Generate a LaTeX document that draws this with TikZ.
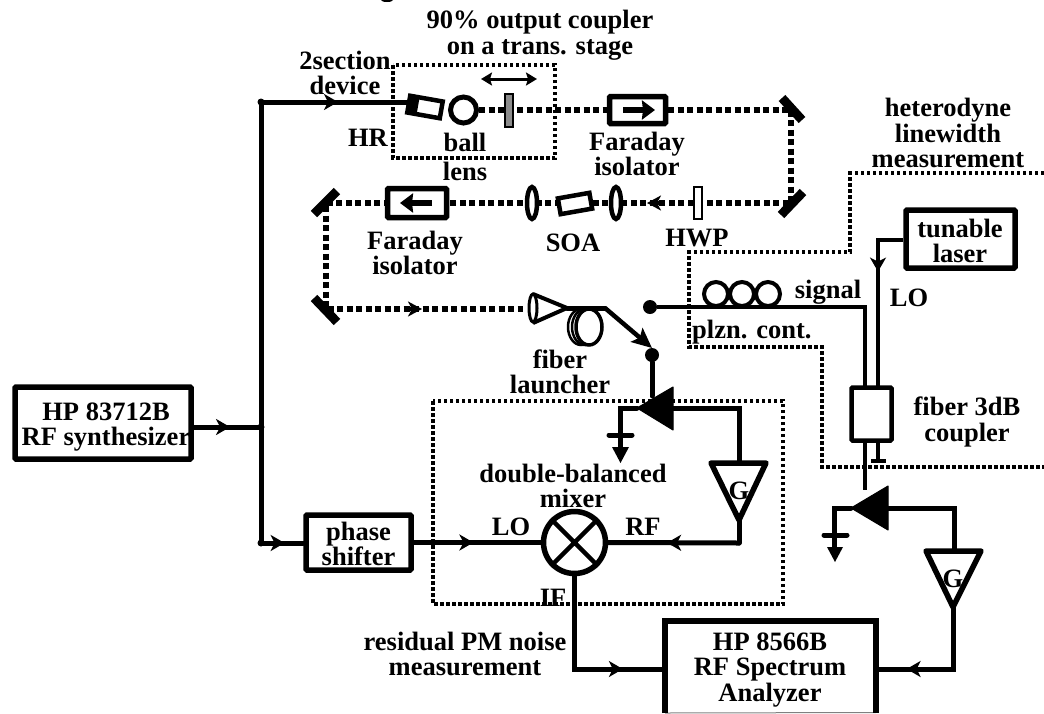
\documentclass[tikz,border=0pt]{standalone}
\usepackage{fontspec}
\setmainfont{Liberation Serif}
\usetikzlibrary{arrows.meta,decorations.markings}
\tikzset{
 x=1pt,y=-1pt,
 txt/.style={font=\fontsize{26.5}{25.5}\selectfont\bfseries,align=center,inner sep=0pt,text=black},
 wire/.style={line width=5pt,line cap=round},
 thinwire/.style={line width=4pt},
 frame/.style={draw,line width=5.5pt,rounded corners=1pt,fill=white},
 beam/.style={line width=5.5pt,dash pattern=on 6pt off 3.5pt},
 dotbox/.style={line width=4pt,dash pattern=on 3.5pt off 2.5pt},
 mirror/.style={line width=9pt},
 optic/.style={draw,line width=4.5pt,fill=white},
 pt/.style={circle,fill=black,inner sep=0pt,minimum size=7pt},
 beamhead/.style={-{Stealth[length=14pt,width=15pt,inset=4pt]},line width=4.5pt},
 faradayhead/.style={line width=6.5pt,-{Stealth[length=13pt,width=19pt,inset=1pt]}},
 mid/.style={postaction={decorate},decoration={markings,mark=at position #1 with {\arrow{Stealth[length=14pt,width=16pt,inset=4pt]}}}},
}
\begin{document}
\begin{tikzpicture}
\useasboundingbox (0,0) rectangle (1044,713);
\fill (387,0) ellipse (6 and 2);
% dotted frames
\draw[dotbox] (393,65) rectangle (555,158);
\draw[dotbox] (433,401) rectangle (783,604);
\draw[dotbox] (1044,173) -- (850,173) -- (850,252) -- (689,252) -- (689,347) -- (822,347) -- (822,467) -- (1044,467);
% boxes
\node[frame,minimum width=176pt,minimum height=72pt] (hp) at (103,423) {};
\node[txt] at (106,427) {HP 83712B\\RF synthesizer};
\node[frame,minimum width=105pt,minimum height=55pt] (ps) at (358.5,542.5) {};
\node[txt] at (358.5,544) {phase\\shifter};
\node[frame,minimum width=109pt,minimum height=58pt] (laser) at (960.5,239) {};
\node[txt] at (960,241) {tunable\\laser};
% spectrum analyser, open at the bottom edge
\coordinate (saA) at (665,713); \coordinate (saB) at (665,621); \coordinate (saC) at (876,621); \coordinate (saD) at (876,713);
\draw[black!50,line width=1pt] (saA) -- (saD |- 0,712.5);
\draw[line width=5.5pt] (saA) -- (saB) -- (saC) -- (saD);
\node[txt] (sa) at (770,670) {HP 8566B\\RF Spectrum\\Analyzer};
% junctions
\coordinate (top) at (261,102); \coordinate (midj) at (261,427); \coordinate (bot) at (261,543);
\draw[wire] (top) -- (bot);
\node[pt] at (top) {}; \node[pt] at (midj) {}; \node[pt] at (bot) {};
\draw[wire,mid=0.54] (hp.east |- midj) -- (midj);
\draw[wire,mid=0.56] (bot) -- (ps.west |- bot);
\coordinate (dev) at (412,102);
\draw[wire,mid=0.51] (top) -- (dev);
% laser head
\node[draw,line width=4.5pt,minimum width=33pt,minimum height=17pt,inner sep=0pt,rotate=-10,fill=white] (device) at (425,107) {};
\begin{scope}[shift={(425,107)},rotate=-10]
\fill (-18,-10) rectangle (-7,10);
\end{scope}
\node[circle,draw,line width=5pt,minimum size=26pt,inner sep=0pt,fill=white] (ball) at (463.5,110) {};
% beams
\coordinate (m1) at (791,110); \coordinate (m2) at (791,203); \coordinate (m3) at (326,203); \coordinate (m4) at (326,309);
\draw[beam] (ball.east) -- (608,110);
\draw[beam] (668,110) -- (m1) -- (m2) -- (m3) -- (m4) -- (523,309);
\draw[beamhead] (660,203) -- (647,203);
\draw[beamhead] (408,309) -- (422,309);
% optics
\node[draw,line width=2pt,fill=black!45,minimum width=8pt,minimum height=33pt,inner sep=0pt] (oc) at (509,110) {};
\draw[line width=3pt,{Stealth[length=11pt,width=13pt,inset=2pt]}-{Stealth[length=11pt,width=13pt,inset=2pt]}] (481,79) -- (537,79);
\node[frame,minimum width=56pt,minimum height=27pt] (fi1) at (637.5,110) {};
\draw[faradayhead] (623,110) -- (655,110);
\node[frame,minimum width=59pt,minimum height=29pt] (fi2) at (417,203) {};
\draw[faradayhead] (432,203) -- (400,203);
\draw[mirror] (782,98) -- (802,120);
\draw[mirror] (781,215) -- (803,192);
\draw[mirror] (314,214) -- (337,191);
\draw[mirror] (314,298) -- (337,322);
\node[draw,line width=2pt,fill=white,minimum width=8pt,minimum height=32pt,inner sep=0pt] (hwp) at (698,203) {};
\draw[optic] (532,203) ellipse (5 and 16);
\draw[optic] (616,203) ellipse (5 and 16);
\node[draw,line width=4.5pt,fill=white,minimum width=32pt,minimum height=16pt,inner sep=0pt,rotate=10] (soa) at (575,203.5) {};
% launcher
\draw[line width=4pt,line join=round] (533,294) -- (567,308) -- (533,323);
\draw[line width=3pt,fill=white] (533,308) ellipse (4 and 14);
\draw[line width=2.5pt] (581,327) ellipse (13 and 18);
\draw[line width=2.5pt] (585,327) ellipse (13 and 18);
\draw[line width=3.5pt,fill=white] (589,327) ellipse (13 and 18);
\coordinate (fend) at (605,308);
\draw[wire] (567,308) -- (fend);
\node[circle,fill=black,minimum size=14pt,inner sep=0pt] (fdot) at (652,355) {};
\draw[line width=4.5pt,-{Stealth[length=20pt,width=18pt,inset=4pt]}] (fend) -- (652,348);
% photodiode 1
\coordinate (pd1) at (673,408);
\draw[wire] (fdot) -- (652,396);
\fill[line join=round,draw,line width=1pt] (637,408) -- (673,387) -- (673,430) -- cycle;
\draw[wire] (673,408) -- (739,408) -- (739,462);
\draw[wire] (637,408) -- (620,408) -- (620,448);
\draw[wire] (609,435) -- (632,435);
\fill (612,447) -- (629,447) -- (620.5,463) -- cycle;
% amplifier 1
\draw[line width=5.5pt,line join=round,fill=white] (711,463) -- (766,463) -- (739,520) -- cycle;
\node[txt] at (739,491) {G};
\draw[wire] (739,520) -- (739,543);
% mixer
\node[circle,draw,line width=5.5pt,minimum size=62pt,inner sep=0pt] (mx) at (574.5,542.5) {};
\draw[line width=4.5pt] (mx.north west) -- (mx.south east) (mx.north east) -- (mx.south west);
\draw[wire,mid=0.47] (ps.east |- mx) -- (mx.west);
\draw[wire,mid=0.55] (739,543) -- (mx.east);
\draw[wire,mid=0.77] (mx.south) -- (574.5,669) -- (saB |- 0,669);
% signal and LO
\node[circle,fill=black,minimum size=14pt,inner sep=0pt] (sig) at (650,307) {};
\draw[thinwire] (sig) -- (865,307) -- (865,387);
\draw[line width=4pt] (716,294) circle (12);
\draw[line width=4pt] (742,294) circle (12);
\draw[line width=4pt] (768,294) circle (12);
\draw[thinwire,mid=0.33] (laser.west |- 0,240) -- (878,240) -- (878,387);
\node[draw,line width=4.5pt,rounded corners=1pt,fill=white,minimum width=40pt,minimum height=53pt] (cp) at (871.5,414) {};
\draw[thinwire] (878,442) -- (878,461);
\draw[thinwire] (871,461) -- (886,461);
\draw[thinwire] (865,442) -- (865,490);
% photodiode 2
\fill[line join=round,draw,line width=1pt] (851,508) -- (888,486) -- (888,530) -- cycle;
\draw[wire] (888,508) -- (954,508) -- (954,551);
\draw[wire] (851,508) -- (834,508) -- (834,548);
\draw[wire] (824,535) -- (847,535);
\fill (827,547) -- (843,547) -- (835,562) -- cycle;
% amplifier 2
\draw[line width=5.5pt,line join=round,fill=white] (926,551) -- (981,551) -- (953,607) -- cycle;
\node[txt] at (953,579) {G};
\draw[wire,mid=0.78] (953,607) -- (953,669) -- (saC |- 0,669);
% labels
\node[txt] at (540,35) {90\% output coupler\\on a trans. stage};
\node[txt] at (345,73) {2section\\device};
\node[txt] at (368,138) {HR};
\node[txt] at (465,157) {ball\\[4pt]lens};
\node[txt] at (637,154) {Faraday\\isolator};
\node[txt] at (415,253) {Faraday\\isolator};
\node[txt] at (573,243) {SOA};
\node[txt] at (697,238) {HWP};
\node[txt] at (948,133) {heterodyne\\linewidth\\measurement};
\node[txt] at (828,292) {signal};
\node[txt] at (909,298) {LO};
\node[txt,anchor=west] at (692,332) {plzn. cont.};
\node[txt] at (560,372) {fiber\\launcher};
\node[txt] at (967,422) {fiber 3dB\\coupler};
\node[txt] at (573,486) {double-balanced\\mixer};
\node[txt] at (511,527) {LO};
\node[txt] at (643,527) {RF};
\node[txt] at (553,598) {IF};
\node[txt] at (465,654) {residual PM noise\\measurement};
\end{tikzpicture}
\end{document}
